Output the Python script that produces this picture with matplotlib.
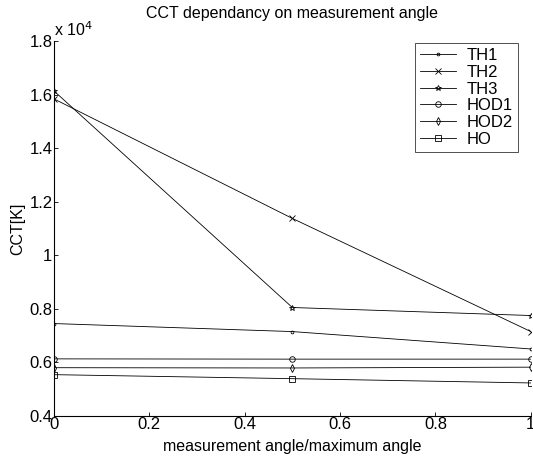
import numpy as np
import matplotlib.pyplot as plt
from matplotlib.ticker import FuncFormatter

plt.rcParams['font.family'] = ['Liberation Sans', 'DejaVu Sans']

# Relative measurement angle
angle = [0, 0.5, 1]

# CCT values in Kelvin for each source
th1 = [7450, 7150, 6500]
th2 = [15850, 11380, 7150]
th3 = [16150, 8050, 7750]
hod1 = [6130, 6120, 6120]
hod2 = [5800, 5790, 5820]
ho = [5540, 5390, 5230]

series = [
    ('TH1', th1, '.'),
    ('TH2', th2, 'x'),
    ('TH3', th3, '*'),
    ('HOD1', hod1, 'o'),
    ('HOD2', hod2, 'd'),
    ('HO', ho, 's'),
]

fs = 12

fig = plt.figure(figsize=(5.33, 4.59), dpi=100)
ax = fig.add_axes([0.101, 0.094, 0.895, 0.816])

for name, vals, mk in series:
    ax.plot(angle, vals, color='black', linewidth=0.6, marker=mk,
            markersize=4, markerfacecolor='none', markeredgewidth=0.6,
            label=name)

ax.set_xlim(0, 1)
ax.set_ylim(4000, 18000)
ax.set_xticks(np.arange(0, 1.01, 0.2))
ax.set_yticks(np.arange(4000, 18001, 2000))

def matlab_fmt(v, pos):
    s = f'{v:.1f}'
    return s.rstrip('0').rstrip('.') if '.' in s else s

ax.xaxis.set_major_formatter(FuncFormatter(matlab_fmt))
ax.yaxis.set_major_formatter(FuncFormatter(lambda v, p: matlab_fmt(v / 1e4, p)))
ax.tick_params(direction='in', length=3, width=0.6, labelsize=fs, pad=1)

for side in ('top', 'right'):
    ax.spines[side].set_visible(False)
for side in ('left', 'bottom'):
    ax.spines[side].set_linewidth(0.8)

ax.text(0.0, 1.005, r'x 10$^4$', transform=ax.transAxes, fontsize=fs - 0.5,
        ha='left', va='bottom')

ax.set_title('CCT dependancy on measurement angle', fontsize=fs - 0.5, pad=17)
ax.set_xlabel('measurement angle/maximum angle', fontsize=fs - 0.5, labelpad=5)
ax.set_ylabel('CCT[K]', fontsize=fs - 0.5, labelpad=3)

leg = ax.legend(loc='upper right', bbox_to_anchor=(0.972, 0.995), fontsize=fs,
                frameon=True, fancybox=False, edgecolor='black',
                handlelength=2.2, labelspacing=0.1, borderpad=0.3,
                handletextpad=0.6, borderaxespad=0)
leg.get_frame().set_linewidth(0.6)

fig.savefig('out.png', dpi=100)
